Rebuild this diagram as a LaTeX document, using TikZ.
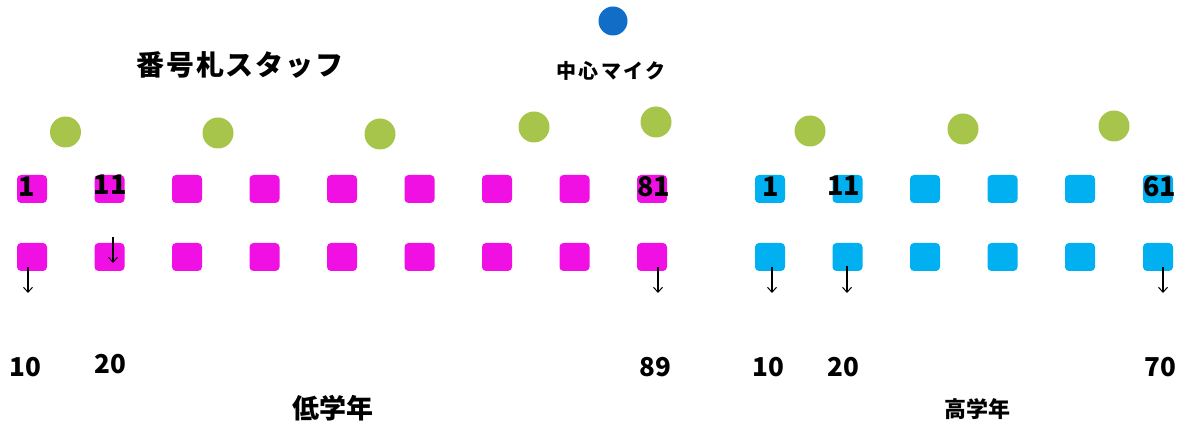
\documentclass[tikz,border=0pt]{standalone}
\usepackage{fontspec}
\setmainfont{Noto Sans CJK JP}
\newfontfamily\jp{Noto Sans CJK JP}
\usetikzlibrary{arrows.meta}
\definecolor{pinkbox}{RGB}{240,16,228}
\definecolor{bluebox}{RGB}{0,176,240}
\definecolor{greendot}{RGB}{166,197,74}
\definecolor{micblue}{RGB}{17,110,200}
\begin{document}
\begin{tikzpicture}[x=1pt,y=-1pt,
  pbox/.style={fill=pinkbox, rounded corners=4pt, minimum width=30pt, minimum height=28pt, inner sep=0pt},
  bbox/.style={fill=bluebox, rounded corners=4pt, minimum width=30pt, minimum height=28pt, inner sep=0pt},
  staff/.style={circle, fill=greendot, minimum size=31pt, inner sep=0pt},
  mic/.style={circle, fill=micblue, minimum size=29pt, inner sep=0pt},
  numlab/.style={inner sep=0pt, font=\jp\bfseries\fontsize{27}{30}\selectfont},
  endlab/.style={inner sep=0pt, font=\jp\bfseries\fontsize{26}{30}\selectfont},
  ttl/.style={inner sep=0pt, font=\jp\bfseries\fontsize{#1}{#1}\selectfont},
  downarrow/.style={-{Straight Barb[length=5pt,width=9pt,line width=1pt]}, line width=1.1pt, black}
]
\useasboundingbox (0,0) rectangle (1186,427);

% microphone
\node[mic] (mic) at (613,21) {};
\node[ttl=20] (miclab) at (611,71) {\addfontfeature{LetterSpace=12}中心マイク};

% title
\node[ttl=28] (title) at (240,65) {\addfontfeature{LetterSpace=6}番号札スタッフ};

% staff circles
\node[staff] (s1) at (65.5,132) {};
\node[staff] (s2) at (218,133) {};
\node[staff] (s3) at (380,134) {};
\node[staff] (s4) at (534,127) {};
\node[staff] (s5) at (656,122) {};
\node[staff] (s6) at (810,131) {};
\node[staff] (s7) at (963,129) {};
\node[staff] (s8) at (1114,126) {};

% pink boxes (lower grades)
\foreach \i/\x in {1/32,2/109.5,3/187,4/264.5,5/342,6/419.5,7/497,8/574.5,9/652} {
  \node[pbox] (pa\i) at (\x,189) {};
  \node[pbox] (pb\i) at (\x,257) {};
}
% blue boxes (upper grades)
\foreach \i/\x in {1/770,2/847.5,3/925,4/1002.5,5/1080,6/1158} {
  \node[bbox] (ba\i) at (\x,189) {};
  \node[bbox] (bb\i) at (\x,257) {};
}

% row labels
\node[numlab] (lp1) at (27,187) {1};
\node[numlab] (lp11) at (110,184.5) {11};
\node[numlab] (lp81) at (653.5,187) {81};
\node[numlab] (lb1) at (771,187) {1};
\node[numlab] (lb11) at (843.5,186) {11};
\node[numlab] (lb61) at (1159.5,187) {61};

% arrows
\coordinate (a1s) at (28,267);   \coordinate (a1e) at (28,293);
\coordinate (a2s) at (113,237);  \coordinate (a2e) at (113,263);
\coordinate (a3s) at (658,267);  \coordinate (a3e) at (658,293);
\coordinate (a4s) at (772,267);  \coordinate (a4e) at (772,293);
\coordinate (a5s) at (847,266);  \coordinate (a5e) at (847,293);
\coordinate (a6s) at (1163,267); \coordinate (a6e) at (1163,293);
\foreach \k in {1,...,6} { \draw[downarrow] (a\k s) -- (a\k e); }

% end numbers
\node[endlab] (ep10) at (25,367.5) {10};
\node[endlab] (ep20) at (110,364.5) {20};
\node[endlab] (ep89) at (655,367.5) {89};
\node[endlab] (eb10) at (768,367.5) {10};
\node[endlab] (eb20) at (843,367.5) {20};
\node[endlab] (eb70) at (1160,367.5) {70};

% group labels
\node[ttl=27] (low) at (333,408) {低学年};
\node[ttl=22] (high) at (977,409) {高学年};
\end{tikzpicture}
\end{document}
